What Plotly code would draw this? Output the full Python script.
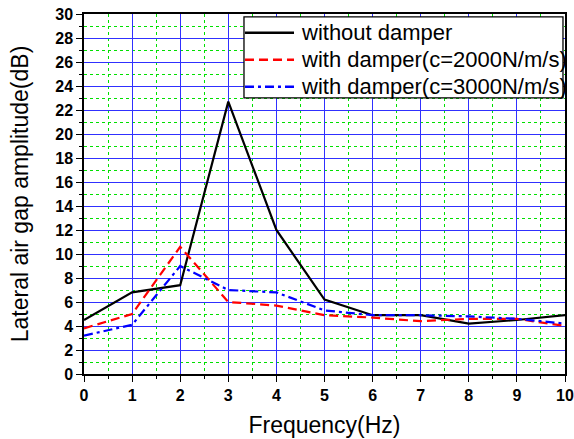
import plotly.graph_objects as go

# Frequency axis (Hz)
freq = [0, 1, 2, 3, 4, 5, 6, 7, 8, 9, 10]

# Lateral air gap amplitude (dB) for each configuration
amp_no_damper = [4.5, 6.8, 7.4, 22.7, 12.0, 6.2, 4.9, 4.9, 4.2, 4.5, 4.9]
amp_c2000 = [3.8, 5.0, 10.6, 6.0, 5.7, 4.9, 4.7, 4.4, 4.6, 4.6, 4.0]
amp_c3000 = [3.2, 4.1, 9.0, 7.0, 6.8, 5.3, 4.9, 4.9, 4.8, 4.6, 4.2]

# Axis tick values
x_ticks = [0, 1, 2, 3, 4, 5, 6, 7, 8, 9, 10]
y_ticks = [0, 2, 4, 6, 8, 10, 12, 14, 16, 18, 20, 22, 24, 26, 28, 30]

series_names = [
    "without damper",
    "with damper(c=2000N/m/s)",
    "with damper(c=3000N/m/s)",
]
series_colors = ["black", "#ff0000", "#0000ff"]
series_dashes = ["solid", "9px,5px", "9px,4px,3px,4px"]

fig = go.Figure()
for yvals, name, color, dash in zip([amp_no_damper, amp_c2000, amp_c3000],
                                    series_names, series_colors, series_dashes):
    fig.add_trace(go.Scatter(x=freq, y=yvals, mode="lines", name=name,
                             line=dict(color=color, width=2.2, dash=dash),
                             showlegend=False))

FONT = "Liberation Sans, Arial, sans-serif"
tick_font = dict(family=FONT, size=16, color="black", weight="bold")
title_font = dict(family=FONT, size=23, color="black")

axis_common = dict(
    showline=True, linecolor="black", linewidth=1.5, mirror=True,
    ticks="outside", ticklen=6, tickwidth=1.2, tickcolor="black",
    showgrid=True, gridcolor="#3030ff", gridwidth=1,
    zeroline=False, tickfont=tick_font, title_font=title_font,
    automargin=False, ticklabeloverflow="allow",
)

fig.update_xaxes(
    range=[0, 10], tickmode="array", tickvals=x_ticks,
    ticktext=[f"<b>{v}</b>" for v in x_ticks],
    title_text="Frequency(Hz)", title_standoff=14,
    minor=dict(dtick=0.5, tick0=0, ticks="outside", ticklen=3, tickcolor="black",
               showgrid=True, gridcolor="#00e000", griddash="dot", gridwidth=1),
    **axis_common,
)
fig.update_yaxes(
    range=[0, 30], tickmode="array", tickvals=y_ticks,
    ticktext=[f"<b>{v}</b>" for v in y_ticks],
    title_text="Lateral air gap amplitude(dB)", title_standoff=20,
    minor=dict(dtick=1, tick0=0, ticks="outside", ticklen=3, tickcolor="black",
               showgrid=True, gridcolor="#00e000", griddash="dot", gridwidth=1),
    **axis_common,
)

# Legend box drawn in paper coordinates (paper spans the plotting area)
box_x0, box_x1 = 0.3326, 0.9958
box_y0, box_y1 = 0.767, 0.992
row_y = [0.948, 0.873, 0.798]
sample_x0, sample_x1 = 0.3347, 0.4366
text_x = 0.446

fig.add_shape(type="rect", xref="paper", yref="paper",
              x0=box_x0, x1=box_x1, y0=box_y0, y1=box_y1,
              line=dict(color="black", width=1.3), fillcolor="white", layer="above")
for ry, name, color, dash in zip(row_y, series_names, series_colors, series_dashes):
    fig.add_shape(type="line", xref="paper", yref="paper",
                  x0=sample_x0, x1=sample_x1, y0=ry, y1=ry,
                  line=dict(color=color, width=2.4, dash=dash), layer="above")
    fig.add_annotation(xref="paper", yref="paper", x=text_x, y=ry,
                       xanchor="left", yanchor="middle", text=name, showarrow=False,
                       font=dict(family=FONT, size=22, color="black"))

fig.update_layout(
    width=574, height=439,
    margin=dict(l=84, r=9, t=14, b=65),
    paper_bgcolor="white", plot_bgcolor="white",
    font=dict(family=FONT, color="black"),
    showlegend=False,
)

fig.write_html("out.html")
